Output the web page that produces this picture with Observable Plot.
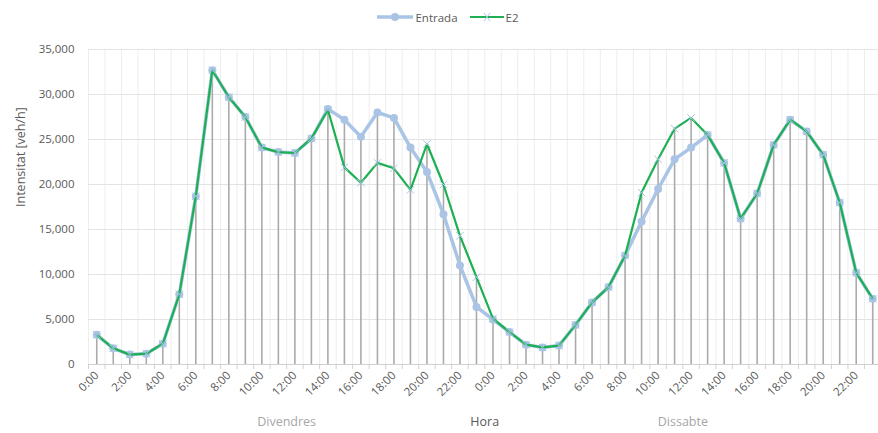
<!DOCTYPE html>
<html>
<head>
<meta charset="utf-8">
<script src="https://cdn.jsdelivr.net/npm/d3@7"></script>
<script src="https://cdn.jsdelivr.net/npm/@observablehq/plot@0.6"></script>
<style>
  html, body { margin: 0; padding: 0; background: #fff; }
  body { width: 878px; height: 433px; overflow: hidden; font-family: "Open Sans", sans-serif; }
  #legend { height: 34px; display: flex; justify-content: center; align-items: center; gap: 12px; padding-left: 18px; font-size: 11.5px; color: #595959; box-sizing: border-box; }
  #legend .item { display: flex; align-items: center; gap: 2px; }
  svg { display: block; }
</style>
</head>
<body>
<div id="legend"></div>
<div id="chart"></div>
<script>
const hours = ["0:00","1:00","2:00","3:00","4:00","5:00","6:00","7:00","8:00","9:00","10:00","11:00","12:00","13:00","14:00","15:00","16:00","17:00","18:00","19:00","20:00","21:00","22:00","23:00"];
const days = ["Divendres", "Dissabte"];
const seriesNames = ["Entrada", "E2"];
const entrada = [
  3300,1800,1100,1200,2300,7800,18700,32700,29700,27500,24100,23600,23500,25100,28400,27200,25300,28000,27400,24100,21400,16700,11000,6400,
  5000,3600,2200,1900,2100,4400,6900,8600,12100,15900,19500,22800,24100,25500,22400,16200,19000,24400,27200,25900,23300,18000,10200,7300
];
const e2 = [
  3300,1800,1100,1200,2300,7800,18700,32700,29700,27500,24100,23600,23500,25100,28300,21900,20200,22400,21800,19400,24500,20000,14300,9700,
  5100,3600,2200,1900,2100,4400,6900,8600,12100,19100,22800,26200,27400,25500,22400,16200,19000,24400,27200,25900,23300,18000,10200,7300
];
const yTicks = [0,5000,10000,15000,20000,25000,30000,35000];
const xTitle = "Hora";
const yTitle = "Intensitat [veh/h]";

const blue = "#aac4e6", green = "#1cb052", grid = "#e3e3e3", text = "#595959";

const n = entrada.length;
const rows = d3.range(n).map(i => ({i, hour: hours[i % 24], entrada: entrada[i], e2: e2[i], top: Math.max(entrada[i], e2[i])}));
const bounds = d3.range(n + 1).map(i => i - 0.5);
const labelIdx = d3.range(0, n, 2);
const dayLabels = days.map((d, k) => ({x: k * 24 + 11.5, text: d}));

// Legend
const legend = document.getElementById("legend");
legend.innerHTML = `
  <div class="item"><svg width="36" height="12"><line x1="0" y1="6" x2="36" y2="6" stroke="${blue}" stroke-width="3.5"/><circle cx="18" cy="6" r="4" fill="${blue}"/></svg><span>${seriesNames[0]}</span></div>
  <div class="item"><svg width="34" height="12"><line x1="0" y1="6" x2="34" y2="6" stroke="${green}" stroke-width="2.2"/><path d="M14,2L20,10M20,2L14,10" stroke="${blue}" stroke-width="1"/></svg><span>${seriesNames[1]}</span></div>`;

const chart = Plot.plot({
  width: 878,
  height: 399,
  marginLeft: 88,
  marginRight: 0,
  marginTop: 15,
  marginBottom: 69,
  style: {fontFamily: "'Open Sans', sans-serif", fontSize: "11.5px", color: text, background: "#fff"},
  x: {type: "linear", domain: [-0.5, n - 0.65], axis: null},
  y: {domain: [0, 35000], axis: null},
  marks: [
    Plot.ruleX(bounds, {stroke: "#ededed", strokeWidth: 1}),
    Plot.ruleY(yTicks, {stroke: grid, strokeWidth: 1}),
    Plot.axisX(bounds, {tickSize: 5, tickFormat: () => "", stroke: "#d0d0d0"}),
    Plot.ruleY([0], {stroke: "#d0d0d0"}),
    Plot.axisX(labelIdx, {tickSize: 0, tickPadding: 9, tickRotate: -45, tickFormat: i => hours[i % 24], fill: text, label: null}),
    Plot.axisY(yTicks, {tickSize: 0, tickPadding: 14, tickFormat: d3.format(","), fill: text, label: null}),
    Plot.text([yTitle], {frameAnchor: "left", dx: -68, rotate: -90, fill: text, fontSize: 12.5}),
    Plot.text(dayLabels, {x: "x", text: "text", frameAnchor: "bottom", dy: 61, fill: "#a6a6a6", fontSize: 12.5}),
    Plot.text([xTitle], {x: [23.5], text: d => d, frameAnchor: "bottom", dy: 61, fill: "#595959", fontSize: 12.5}),
    Plot.ruleX(rows, {x: "i", y1: 0, y2: "top", stroke: "#ababab", strokeWidth: 1.6}),
    Plot.line(rows, {x: "i", y: "entrada", stroke: blue, strokeWidth: 3.5}),
    Plot.dot(rows, {x: "i", y: "entrada", r: 4, fill: blue, stroke: "none"}),
    Plot.line(rows, {x: "i", y: "e2", stroke: green, strokeWidth: 2.2}),
    Plot.dot(rows, {x: "i", y: "e2", symbol: "times", r: 3.5, stroke: blue, strokeWidth: 1})
  ]
});
document.getElementById("chart").appendChild(chart);
</script>
</body>
</html>
